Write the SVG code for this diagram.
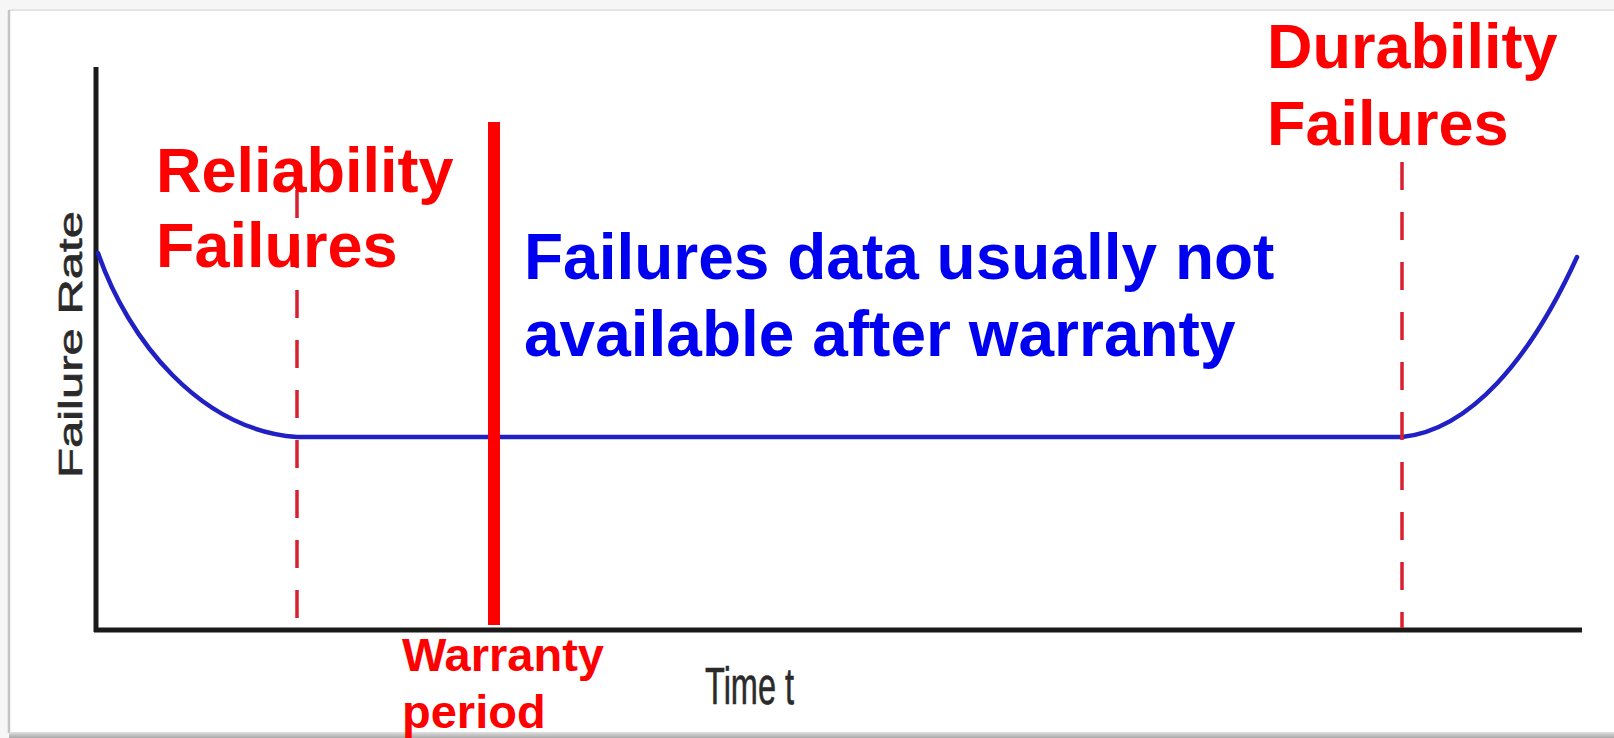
<svg xmlns="http://www.w3.org/2000/svg" width="1614" height="738" viewBox="0 0 1614 738">
  <style>
    .lbl-red { fill: #ff0000; font-family: "Liberation Sans", Arial, sans-serif; font-weight: bold; }
    .lbl-blue { fill: #0000f0; font-family: "Liberation Sans", Arial, sans-serif; font-weight: bold; }
    .axis-title { fill: #2a2a2a; font-family: "Liberation Sans", Arial, sans-serif; stroke: #2a2a2a; stroke-width: 0.6; }
    .axis { stroke: #1a1a1a; stroke-width: 5; fill: none; stroke-linecap: butt; }
    .curve { stroke: #2020c4; stroke-width: 4.5; fill: none; stroke-linecap: round; }
    .phase { stroke: #d8202e; stroke-width: 3.5; fill: none; stroke-dasharray: 28 22; }
    .warranty { stroke: #ff0000; stroke-width: 12; fill: none; }
  </style>
  <defs>
    <linearGradient id="shadowBottom" x1="0" y1="0" x2="0" y2="1">
      <stop offset="0" stop-color="#e2e2e2"/>
      <stop offset="1" stop-color="#a8a8a8"/>
    </linearGradient>
  </defs>

  <!-- page frame -->
  <rect x="0" y="0" width="1614" height="738" fill="#f6f6f6"/>
  <rect x="9" y="10" width="1605" height="723" fill="#ffffff"/>
  <line x1="9" y1="10" x2="1614" y2="10" stroke="#e4e4e4" stroke-width="2"/>
  <line x1="9" y1="10" x2="9" y2="733" stroke="#c4c4c4" stroke-width="2.5"/>
  <rect x="9" y="732" width="1605" height="6" fill="url(#shadowBottom)"/>

  <!-- axes and bathtub curve -->
  <g id="chart">
    <line class="axis" x1="96" y1="67" x2="96" y2="632" stroke-width="4"/>
    <line class="axis" x1="94" y1="630" x2="1582" y2="630"/>
    <path class="curve" d="M98,253 C128,340 200,430 297,437 L1402,437 C1470,430 1530,360 1577,257"/>
  </g>

  <g id="connectors">
    <line class="phase" x1="297" y1="190" x2="297" y2="626"/>
    <line class="phase" x1="1402" y1="162" x2="1402" y2="628"/>
    <line class="warranty" x1="494" y1="122" x2="494" y2="625"/>
  </g>

  <g id="axis-y-title">
    <text class="axis-title" transform="translate(82,478) rotate(-90)" font-size="33" textLength="267" lengthAdjust="spacingAndGlyphs">Failure Rate</text>
  </g>
  <g id="axis-x-title">
    <text class="axis-title" x="705" y="704" font-size="51" textLength="89" lengthAdjust="spacingAndGlyphs">Time t</text>
  </g>

  <g id="reliability">
    <text class="lbl-red" font-size="63"><tspan x="156" y="192">Reliability</tspan><tspan x="156" y="267">Failures</tspan></text>
  </g>

  <g id="durability">
    <text class="lbl-red" font-size="63"><tspan x="1267" y="68">Durability</tspan><tspan x="1267" y="145">Failures</tspan></text>
  </g>

  <g id="warranty-period">
    <text class="lbl-red" font-size="47"><tspan x="402" y="671">Warranty</tspan><tspan x="402" y="728">period</tspan></text>
  </g>

  <g id="note">
    <text class="lbl-blue" font-size="64"><tspan x="524" y="279">Failures data usually not</tspan><tspan x="524" y="356">available after warranty</tspan></text>
  </g>
</svg>
